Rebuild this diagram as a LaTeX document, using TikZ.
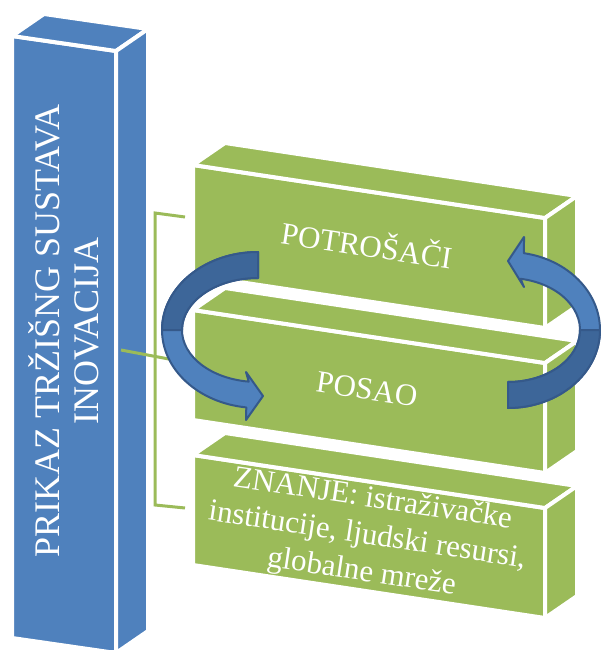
\documentclass[tikz,border=0pt]{standalone}
\usepackage{fontspec}
\setmainfont{Liberation Serif}
\usetikzlibrary{calc}
\definecolor{obl}{HTML}{4F81BD}
\definecolor{ogr}{HTML}{9BBB59}
\definecolor{odk}{HTML}{3D6699}
\definecolor{oln}{HTML}{35598A}
\newcommand{\gbx}[3]{%
  \coordinate (#1A) at (#2,#3);
  \path (#1A) ++(352,53) coordinate (#1B) ++(0,110) coordinate (#1C);
  \path (#1A) ++(0,110) coordinate (#1D);
  \filldraw[greenf] (#1A) -- (#1B) -- (#1C) -- (#1D) -- cycle;
  \filldraw[greenf] (#1A) -- ++(32,-22) -- ++(352,53) -- (#1B) -- cycle;
  \filldraw[greenf] (#1B) -- ++(32,-22) -- ++(0,110) -- (#1C) -- cycle;
}
\begin{document}
\begin{tikzpicture}[x=1pt,y=-1pt,
  face/.style={line width=4pt, draw=white, line join=round},
  bluef/.style={face, fill=obl},
  greenf/.style={face, fill=ogr},
  lbl/.style={text=white, align=center, inner sep=0pt},
  brk/.style={draw=ogr, line width=3pt},
  arr/.style={fill=obl, draw=oln, line width=2pt, line join=round},
  arrdark/.style={fill=odk, draw=oln, line width=2pt, line join=round}]
\useasboundingbox (0,0) rectangle (601,650);

% blue column
\coordinate (cA) at (12,36);
\coordinate (cB) at (116,51);
\coordinate (cC) at (116,653);
\coordinate (cD) at (12,638);
\filldraw[bluef] (cA) -- (cB) -- (cC) -- (cD) -- cycle;
\filldraw[bluef] (cA) -- ++(32,-22) -- ++(104,15) -- (cB) -- cycle;
\filldraw[bluef] (cB) -- ++(32,-22) -- ++(0,602) -- (cC) -- cycle;
\node[lbl, rotate=90, font=\fontsize{36}{39}\selectfont] (ctext) at (64,331)
  {PRIKAZ TRŽIŠNG SUSTAVA\\INOVACIJA};

% bracket
\coordinate (bt) at (185,217);
\coordinate (btc) at (155,213);
\coordinate (bbc) at (155,505);
\coordinate (bb) at (185,508);
\coordinate (hs) at (121,350);
\coordinate (he) at (190,363);
\draw[brk] (bt) -- (btc) -- (bbc) -- (bb);
\draw[brk] (hs) -- (he);

% green boxes
\gbx{g1}{193}{165}
\node[lbl, rotate=-8.6, font=\fontsize{31}{35}\selectfont] (t1) at ($(g1A)!0.5!(g1C)+(-2,-3)$) {POTROŠAČI};
\gbx{g2}{193}{310}
\node[lbl, rotate=-8.6, font=\fontsize{31}{35}\selectfont] (t2) at ($(g2A)!0.5!(g2C)+(-2,-2)$) {POSAO};
\gbx{g3}{193}{455}
\node[lbl, rotate=-8.6, font=\fontsize{31}{37}\selectfont] (t3) at ($(g3A)!0.5!(g3C)+(-2,0)$)
  {ZNANJE: istraživačke\\institucije, ljudski resursi,\\globalne mreže};

% left circular arrow
\coordinate (la0) at (258,252);
\path[arr] (la0) arc[start angle=270, end angle=97, x radius=96, y radius=78]
  -- (246,420) -- (263,396) -- (246,372)
  -- ($(258,330)+(97:76 and 52)$) arc[start angle=97, end angle=270, x radius=76, y radius=52]
  -- cycle;
\path[arrdark] (la0) arc[start angle=270, end angle=180, x radius=96, y radius=78]
  -- (182,330) arc[start angle=180, end angle=270, x radius=76, y radius=52] -- cycle;

% right circular arrow
\coordinate (ra0) at (508,408);
\path[arr] (ra0) arc[start angle=90, end angle=-80, x radius=92, y radius=78]
  -- (524,237) -- (508,261) -- (524,287)
  -- ($(508,330)+(-80:72 and 52)$) arc[start angle=-80, end angle=90, x radius=72, y radius=52]
  -- cycle;
\path[arrdark] (ra0) arc[start angle=90, end angle=0, x radius=92, y radius=78]
  -- (580,330) arc[start angle=0, end angle=90, x radius=72, y radius=52] -- cycle;
\end{tikzpicture}
\end{document}
